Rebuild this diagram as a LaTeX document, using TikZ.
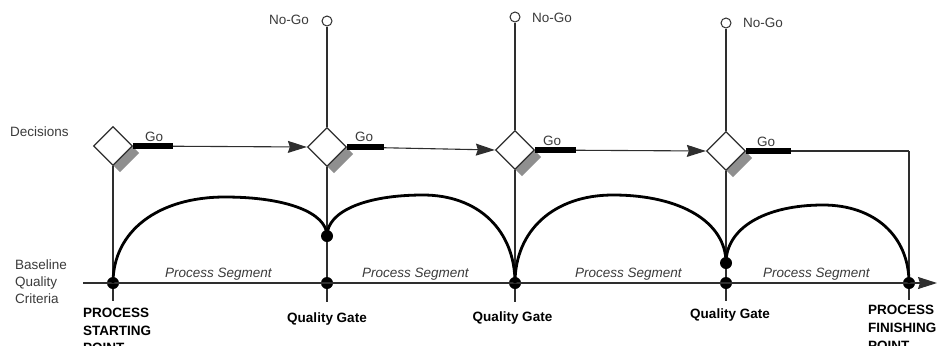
\documentclass[tikz,border=0pt]{standalone}
\usepackage{fontspec}
\setmainfont{Liberation Sans}
\usetikzlibrary{shapes.geometric,shadows,arrows.meta}
\definecolor{txtgray}{HTML}{3A3A3A}
\definecolor{linegray}{HTML}{2E2E2E}
\definecolor{shadowgray}{HTML}{8F8F8F}
\begin{document}
\begin{tikzpicture}[x=1bp,y=-1bp,
  every node/.style={font=\fontsize{13.5bp}{17bp}\selectfont},
  decision/.style={diamond, aspect=1, minimum width=39bp, minimum height=39bp,
    inner sep=0, draw=linegray, line width=1.3bp, fill=white,
    drop shadow={shadow xshift=7bp, shadow yshift=-7bp, fill=shadowgray, opacity=1}},
  nogo/.style={circle, draw=linegray, fill=white, line width=1bp, minimum size=10bp, inner sep=0},
  dot/.style={circle, fill=black, minimum size=12bp, inner sep=0},
  link/.style={draw=linegray, line width=1.1bp},
  flow/.style={link, -{Stealth[length=19bp, width=12bp, inset=2bp]}},
  gobar/.style={line width=5.5bp, black},
  arcline/.style={line width=2.8bp, black},
  lbl/.style={inner sep=0, text=txtgray},
  seg/.style={lbl, font=\fontsize{13.5bp}{17bp}\selectfont\itshape},
  strong/.style={inner sep=0, text=black, align=left, font=\fontsize{13.5bp}{17.3bp}\selectfont\bfseries},
]
\useasboundingbox (0,0) rectangle (938,345);

% decision diamonds
\node[decision] (d1) at (113,146) {};
\node[decision] (d2) at (327,147) {};
\node[decision] (d3) at (515,150) {};
\node[decision] (d4) at (726,151) {};

% no-go terminals
\node[nogo] (n2) at (327,21) {};
\node[nogo] (n3) at (515,17) {};
\node[nogo] (n4) at (726,23) {};

% points on the baseline and on the quality arcs
\node[dot] (s)   at (113,283) {};
\node[dot] (g1)  at (327,283) {};
\node[dot] (g1u) at (327,236) {};
\node[dot] (g2)  at (515,283) {};
\node[dot] (g3)  at (726,283) {};
\node[dot] (g3u) at (726,263) {};
\node[dot] (f)   at (909,283) {};

\coordinate (b0) at (83,283);
\coordinate (b1) at (937,283);
\coordinate (ts) at (113,301);
\coordinate (t1) at (327,302);
\coordinate (t2) at (515,302);
\coordinate (t3) at (726,301);
\coordinate (tf) at (909,300);
\coordinate (corner) at (909,151);

% baseline axis
\draw[flow] (b0) -- (b1);

% vertical decision lines
\draw[link] (d1) -- (s) -- (ts);
\draw[link] (n2) -- (d2) -- (g1u) -- (g1) -- (t1);
\draw[link] (n3) -- (d3) -- (g2) -- (t2);
\draw[link] (n4) -- (d4) -- (g3u) -- (g3) -- (t3);
\draw[link] (corner) -- (f) -- (tf);

% go paths between decisions
\draw[flow] (d1.east) -- (d2.west);
\draw[flow] (d2.east) -- (d3.west);
\draw[flow] (d3.east) -- (d4.west);
\draw[link] (d4.east) -- (corner);
\draw[gobar] (d1.east) -- ++(39.5,0);
\draw[gobar] (d2.east) -- ++(37,0);
\draw[gobar] (d3.east) -- ++(41,0);
\draw[gobar] (d4.east) -- ++(44.5,0);

% quality arcs over each process segment
\draw[arcline] (s.center) .. controls (113,231.4) and (157.8,197) .. (225,197)
  .. controls (286.2,197) and (327,212.6) .. (g1u.center);
\draw[arcline] (g1u.center) .. controls (327,211.4) and (365.4,195) .. (423,195)
  .. controls (478.2,195) and (515,230.2) .. (g2.center);
\draw[arcline] (g2.center) .. controls (515,230.2) and (554.2,195) .. (613,195)
  .. controls (680.8,195) and (726,222.2) .. (g3u.center);
\draw[arcline] (g3u.center) .. controls (726,228.2) and (764.8,205) .. (823,205)
  .. controls (874.6,205) and (909,236.2) .. (f.center);

% labels
\node[lbl, anchor=base west] (ldec) at (10,136) {Decisions};
\node[lbl, anchor=north west, align=left] (lbase) at (15,259.3) {Baseline\\Quality\\Criteria};

\node[lbl, anchor=base west] (go1) at (145,141) {Go};
\node[lbl, anchor=base west] (go2) at (355,141.5) {Go};
\node[lbl, anchor=base west] (go3) at (543,145) {Go};
\node[lbl, anchor=base west] (go4) at (757,146.5) {Go};

\node[lbl, anchor=base east] (ng2) at (309,24) {No-Go};
\node[lbl, anchor=base west] (ng3) at (532,22) {No-Go};
\node[lbl, anchor=base west] (ng4) at (743,27) {No-Go};

\node[seg, anchor=base west] (ps1) at (165,277) {Process Segment};
\node[seg, anchor=base west] (ps2) at (362,277) {Process Segment};
\node[seg, anchor=base west] (ps3) at (575,277) {Process Segment};
\node[seg, anchor=base west] (ps4) at (763,277) {Process Segment};

\node[strong, anchor=north west] (lstart) at (83,308.3) {PROCESS\\STARTING\\POINT};
\node[strong, anchor=base] (q1) at (327,322) {Quality Gate};
\node[strong, anchor=base] (q2) at (512.5,321) {Quality Gate};
\node[strong, anchor=base] (q3) at (730,318) {Quality Gate};
\node[strong, anchor=north west,
  font=\fontsize{13.5bp}{18bp}\selectfont\bfseries] (lfinish) at (868,305.3) {PROCESS\\FINISHING\\POINT};
\end{tikzpicture}
\end{document}
